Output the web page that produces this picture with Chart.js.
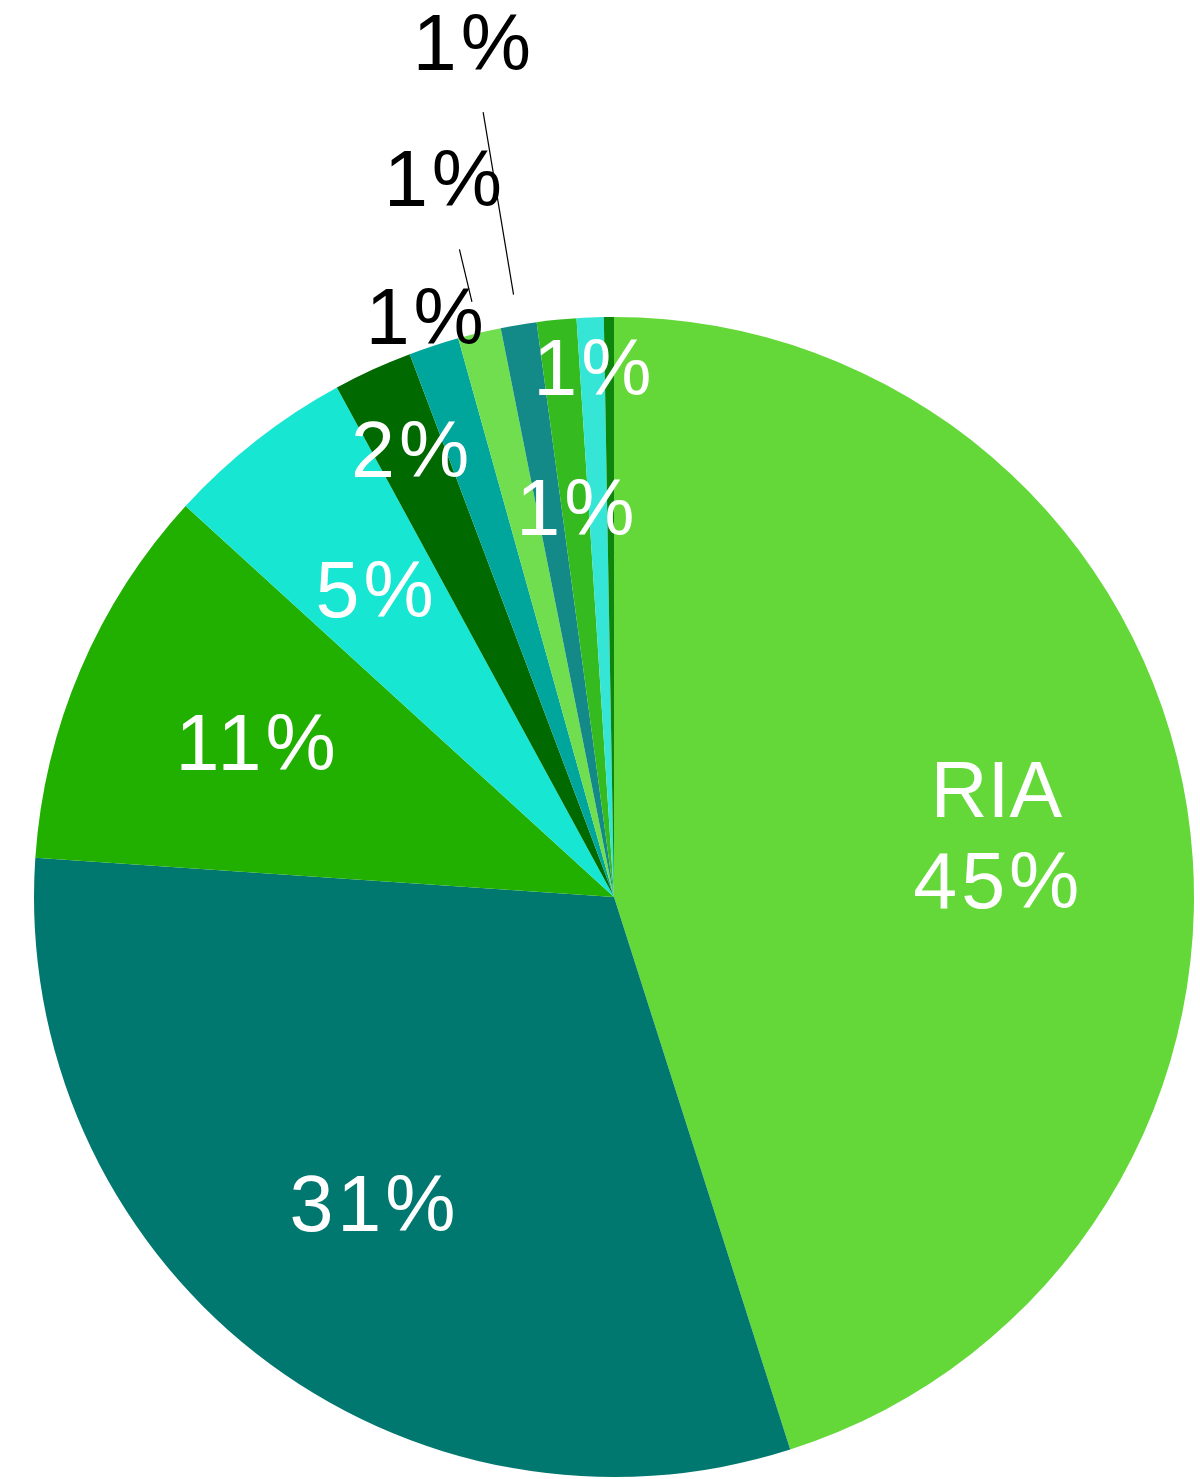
<!DOCTYPE html>
<html>
<head>
  <title>Pie</title>
  <script src="https://cdn.jsdelivr.net/npm/chart.js"></script>
  <style>
    body { margin: 0; background: #fff; }
  </style>
</head>
<body>
  <canvas id="chart" width="1200" height="1479"></canvas>
  <script>
    // Data, clockwise from 12 o'clock
    const categories = ["RIA", "", "", "", "", "", "", "", "", "", ""];
    const shares = [45.1, 31.0, 10.7, 5.3, 2.2, 1.4, 1.2, 1.0, 1.1, 0.75, 0.28];
    const colors = [
      "#64d838", "#00776f", "#22b000", "#17e6d2", "#006a00", "#00a59c",
      "#70de4e", "#148a88", "#35bb1f", "#35e5d5", "#0e860e"
    ];

    // label placement (fraction of radius), leader lines, text colour
    const labelRadius = [0.667, 0.675, 0.672, 0.669, 0.845, 1.05, 1.27, 1.49, 0.672, 0.91, null];
    const leaders = [null, null, null, null, null, null, [1.055, 1.148], [1.053, 1.372], null, null, null];
    const labelColor = ["#fff", "#fff", "#fff", "#fff", "#fff", "#000", "#000", "#000", "#fff", "#fff", null];

    const FONT = '79px "Liberation Sans", Arial, sans-serif';

    const pieLabels = {
      id: "pieLabels",
      afterDatasetsDraw(chart) {
        const ctx = chart.ctx;
        const meta = chart.getDatasetMeta(0);
        const total = shares.reduce((a, b) => a + b, 0);
        ctx.save();
        ctx.font = FONT;
        ctx.textAlign = "center";
        ctx.textBaseline = "middle";
        meta.data.forEach((arc, i) => {
          if (labelRadius[i] == null) return;
          const mid = (arc.startAngle + arc.endAngle) / 2;
          const R = arc.outerRadius;
          const cx = arc.x, cy = arc.y;
          if (leaders[i]) {
            ctx.strokeStyle = "#000";
            ctx.lineWidth = 1.2;
            ctx.beginPath();
            ctx.moveTo(cx + Math.cos(mid) * R * leaders[i][0], cy + Math.sin(mid) * R * leaders[i][0]);
            ctx.lineTo(cx + Math.cos(mid) * R * leaders[i][1], cy + Math.sin(mid) * R * leaders[i][1]);
            ctx.stroke();
          }
          const x = cx + Math.cos(mid) * R * labelRadius[i];
          const y = cy + Math.sin(mid) * R * labelRadius[i] + 4;
          const pct = Math.round(shares[i] / total * 100) + "%";
          ctx.fillStyle = labelColor[i];
          if (categories[i]) {
            ctx.letterSpacing = "0px";
            ctx.fillText(categories[i], x, y - 46);
            ctx.letterSpacing = "4px";
            ctx.fillText(pct, x + 2, y + 45);
          } else {
            ctx.letterSpacing = "4px";
            ctx.fillText(pct, x + 2, y);
          }
        });
        ctx.restore();
      }
    };

    new Chart(document.getElementById("chart").getContext("2d"), {
      type: "pie",
      data: {
        labels: categories,
        datasets: [{
          data: shares,
          backgroundColor: colors,
          borderWidth: 0
        }]
      },
      options: {
        responsive: false,
        animation: false,
        layout: { padding: { left: 34, right: 6, top: 317, bottom: 2 } },
        plugins: {
          legend: { display: false },
          tooltip: { enabled: false }
        }
      },
      plugins: [pieLabels]
    });
  </script>
</body>
</html>
